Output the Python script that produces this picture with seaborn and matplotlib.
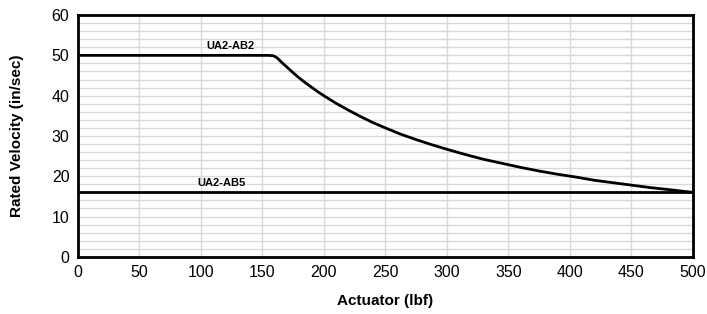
import matplotlib
matplotlib.use("Agg")
import matplotlib.pyplot as plt
import seaborn as sns
import pandas as pd
from matplotlib.ticker import MultipleLocator

sns.set_theme(style="white")
plt.rcParams['font.family'] = ['Liberation Sans', 'DejaVu Sans']
plt.rcParams['text.color'] = 'black'
plt.rcParams['axes.labelcolor'] = 'black'

ab2_force = [0, 155, 159, 162, 166, 170, 175, 180, 185, 190, 195, 200, 210, 220,
             230, 240, 250, 262, 275, 287, 300, 315, 330, 345, 360, 375, 390, 405, 420,
             435, 450, 465, 480, 500]
ab2_vel = [50, 50, 49.9, 49.4, 48.2, 47.1, 45.7, 44.4, 43.2, 42.1, 41.0, 40.0,
           38.1, 36.4, 34.8, 33.3, 32.0, 30.5, 29.1, 27.9, 26.7, 25.4, 24.2, 23.2, 22.2,
           21.3, 20.5, 19.8, 19.0, 18.4, 17.8, 17.2, 16.7, 16.0]
ab5_force = [0, 500]
ab5_vel = [16, 16]

df = pd.concat([
    pd.DataFrame({"force": ab2_force, "vel": ab2_vel, "series": "UA2-AB2"}),
    pd.DataFrame({"force": ab5_force, "vel": ab5_vel, "series": "UA2-AB5"}),
])

fig = plt.figure(figsize=(7.07, 3.14), dpi=100)
ax = fig.add_axes([0.110, 0.182, 0.870, 0.770])
sns.lineplot(data=df, x="force", y="vel", units="series", estimator=None,
             color="black", linewidth=2, ax=ax, legend=False, sort=False)

ax.set_xlim(0, 500)
ax.set_ylim(0, 60)
ax.xaxis.set_major_locator(MultipleLocator(50))
ax.yaxis.set_major_locator(MultipleLocator(10))
ax.yaxis.set_minor_locator(MultipleLocator(2))
ax.grid(True, which="major", axis="both", color="#d9d9d9", linewidth=1)
ax.grid(True, which="minor", axis="y", color="#d9d9d9", linewidth=1)
ax.set_axisbelow(True)
for s in ax.spines.values():
    s.set_color("black")
    s.set_linewidth(2)
ax.tick_params(axis="both", which="both", length=0, labelsize=11.5, colors="black", pad=6)
ax.set_xlabel("Actuator (lbf)", fontsize=11, fontweight="bold", labelpad=10, color="black")
ax.set_ylabel("Rated Velocity (in/sec)", fontsize=11, fontweight="bold", labelpad=20, color="black")

ax.text(124, 51.0, "UA2-AB2", fontsize=8, fontweight="bold", ha="center", va="bottom", color="black")
ax.text(117, 17.0, "UA2-AB5", fontsize=8, fontweight="bold", ha="center", va="bottom", color="black")

fig.savefig("out.png", dpi=100)
